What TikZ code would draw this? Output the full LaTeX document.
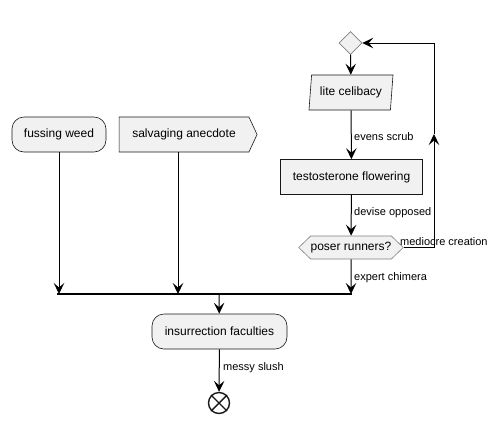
\documentclass[tikz,border=0pt]{standalone}
\usepackage{fontspec}
\setmainfont{Liberation Sans}
\usetikzlibrary{arrows.meta,shapes.geometric,shapes.symbols,positioning}
\definecolor{boxfill}{HTML}{F1F1F1}
\definecolor{boxline}{HTML}{181818}
\tikzset{
  act/.style={draw=boxline, fill=boxfill, line width=0.6pt, rounded corners=12pt,
    minimum height=35pt, font=\fontsize{12}{14}\selectfont, inner sep=0pt},
  plainbox/.style={act, rounded corners=0pt},
  choice/.style={draw=gray, fill=boxfill, line width=0.6pt},
  flow/.style={line width=1pt, -{Stealth[length=11pt,width=10.5pt,inset=4.5pt]}},
  lbl/.style={font=\fontsize{11}{13}\selectfont, anchor=west, inner sep=0pt}
}
\begin{document}
\begin{tikzpicture}[x=1pt,y=-1pt]
    \useasboundingbox (0,0) rectangle (497,421);
    % Nodos de la rama derecha
    \node[choice, diamond, minimum size=23pt, inner sep=0pt] (merge) at (350.5,43) {};
    \node[choice, draw=boxline, trapezium, trapezium left angle=77, trapezium right angle=103,
      trapezium stretches body, minimum width=84pt, minimum height=35pt, inner sep=0pt,
      font=\fontsize{12}{14}\selectfont] (celibacy) at (351,92.5) {lite celibacy};
    \node[plainbox, minimum width=142pt] (flowering) at (351.5,177) {testosterone flowering};
    \node[choice, signal, signal to=west and east, signal pointer angle=88,
      minimum width=100pt, minimum height=23pt, inner sep=0pt,
      font=\fontsize{12}{14}\selectfont] (runners) at (351,247.5) {poser runners?};
    % Nodos de la izquierda
    \node[act, minimum width=94pt] (weed) at (59,134.5) {fussing weed};
    \node[plainbox, signal, signal to=east, signal pointer angle=130,
      minimum width=138pt] (anecdote) at (184,134.5) {salvaging anecdote};
    \node[act, minimum width=135pt] (faculties) at (219.5,331.5) {insurrection faculties};
    \node[draw=boxline, circle, line width=1.4pt, minimum size=21pt, inner sep=0pt] (stop) at (219,403) {};
    \draw[line width=1.4pt, boxline] (stop.45) -- (stop.225) (stop.135) -- (stop.315);
    % Barra de union
    \coordinate (barL) at (57,294);
    \coordinate (barR) at (352,294);
    \coordinate (barW) at (59,294);
    \coordinate (barA) at (178,294);
    \coordinate (barM) at (219,294);
    \coordinate (loopA) at (434,247.5);
    \coordinate (loopB) at (434,134);
    \coordinate (loopC) at (434,43);
    \draw[line width=2pt] (barL) -- (barR);
    % Conectores
    \draw[flow] (merge) -- (celibacy);
    \draw[flow] (celibacy) -- (flowering);
    \draw[flow] (flowering) -- (runners);
    \draw[flow] (runners) -- (runners.south |- barR);
    \draw[flow] (weed) -- (barW);
    \draw[flow] (anecdote.south -| barA) -- (barA);
    \draw[flow] (barM) -- (faculties);
    \draw[flow] (faculties) -- (stop);
    \draw[flow] (runners.east) -- (loopA) -- (loopB);
    \draw[flow] (loopB) -- (loopC) -- (merge.east);
    % Etiquetas
    \node[lbl] (l1) at (354,137) {evens scrub};
    \node[lbl] (l2) at (354,213) {devise opposed};
    \node[lbl] (l3) at (400,242) {mediocre creation};
    \node[lbl] (l4) at (354,278) {expert chimera};
    \node[lbl] (l5) at (223,368) {messy slush};
\end{tikzpicture}
\end{document}
